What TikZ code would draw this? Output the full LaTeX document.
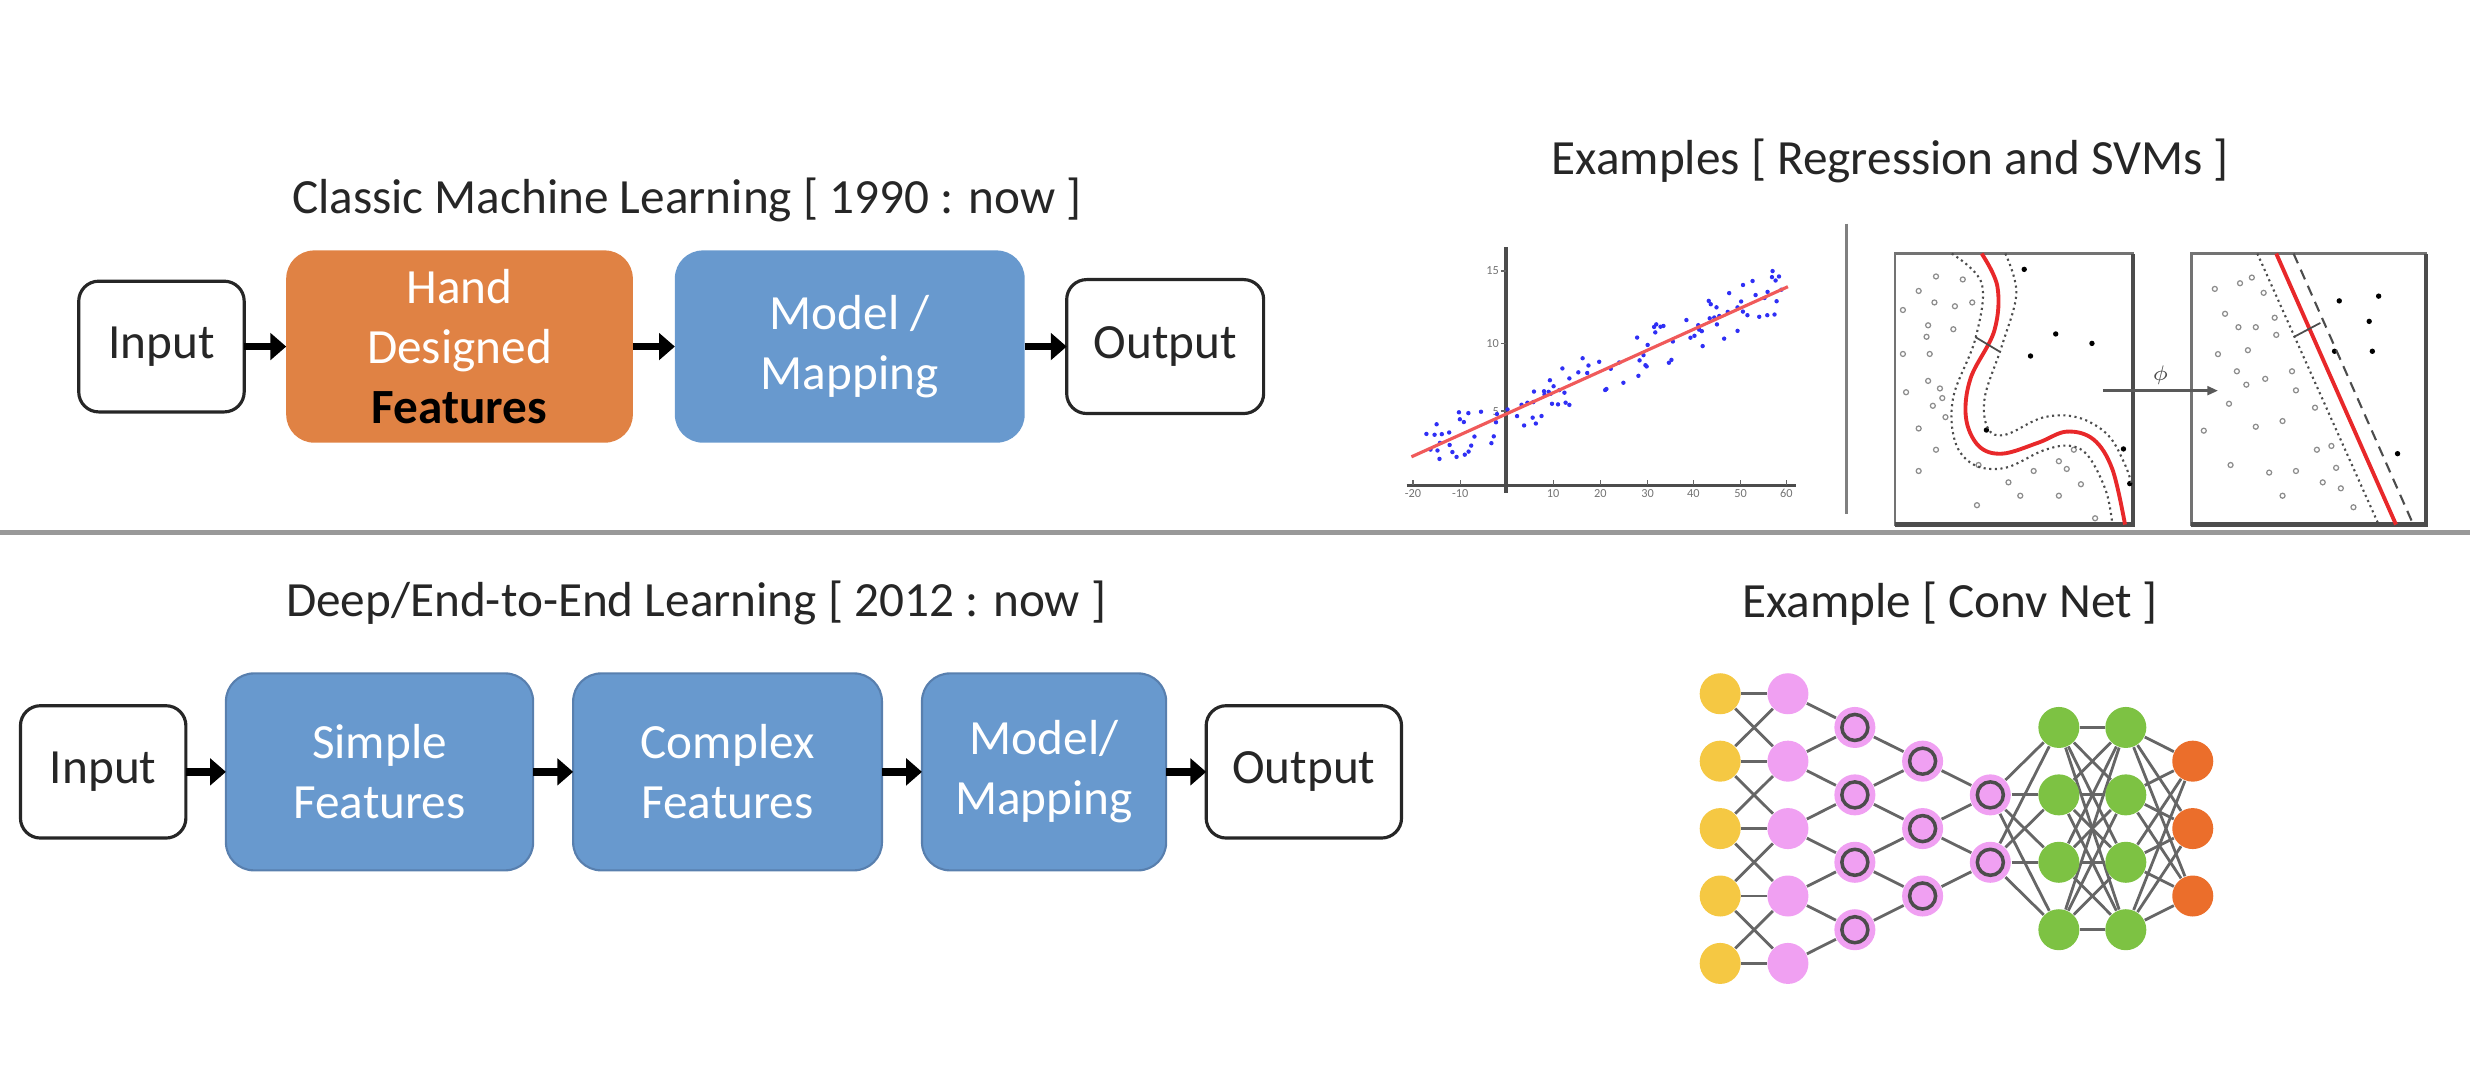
\documentclass[tikz,border=0pt]{standalone}
\usepackage{fontspec}
\setmainfont{Carlito}
\usetikzlibrary{positioning, arrows.meta, calc, backgrounds}

\definecolor{blockblue}{HTML}{6899CE}
\definecolor{blockedge}{HTML}{587FAE}
\definecolor{handorange}{HTML}{E08244}
\definecolor{txtgray}{HTML}{262626}
\definecolor{unityellow}{HTML}{F5C843}
\definecolor{unitpink}{HTML}{F0A0F2}
\definecolor{unitgreen}{HTML}{7DC243}
\definecolor{unitorange}{HTML}{EB6E2B}
\definecolor{dotblue}{HTML}{2F2FF5}
\definecolor{fitred}{HTML}{F05A5A}
\definecolor{svmred}{HTML}{E8282A}

\tikzset{
    io/.style={draw=txtgray, line width=0.9pt, fill=white, rounded corners=0.2cm,
        inner sep=0pt, outer sep=0pt, text=txtgray, align=center},
    block/.style={fill=blockblue, rounded corners=0.28cm, inner sep=0pt, outer sep=0pt,
        minimum height=1.922cm, text=white, align=center},
    flow/.style={line width=2.2pt, black, -{Triangle[length=4.5pt, width=7.5pt]}},
    heading/.style={text=txtgray},
    unit/.style={circle, minimum size=0.41cm, inner sep=0pt},
    ringunit/.style={unit, fill=unitpink, path picture={\draw[black!70, line width=1pt]
        (path picture bounding box.center) circle (0.13cm);}},
    link/.style={black!60, line width=0.8pt},
    tick/.style={font=\fontsize{3.5pt}{4pt}\selectfont, text=black!55, inner sep=0.5pt},
    opendot/.style={draw=black!45, line width=0.35pt},
}

\begin{document}
\begin{tikzpicture}[x=0.01575cm, y=-0.01575cm,
    every node/.style={font=\fontsize{14pt}{17pt}\selectfont}]
    \useasboundingbox (0,0) rectangle (1568,683);

    % classic pipeline
    \node[heading] (classic) at (436,127) {Classic Machine Learning [ 1990 : now ]};
    \node[io, minimum width=1.654cm, minimum height=1.307cm] (in1) at (102.5,220) {Input};
    \node[block, fill=handorange, minimum width=3.465cm, right=0.42cm of in1] (hand)
        {Hand\\Designed\\\textbf{\color{black}Features}};
    \node[block, minimum width=3.497cm, right=0.42cm of hand] (model1) {Model /\\Mapping};
    \node[io, minimum width=1.969cm, minimum height=1.339cm, right=0.42cm of model1] (out1) {Output};

    \draw[flow] (in1) -- (hand);
    \draw[flow] (hand) -- (model1);
    \draw[flow] (model1) -- (out1);

    % deep pipeline
    \node[heading] (deep) at (442,383) {Deep/End-to-End Learning [ 2012 : now ]};
    \node[io, minimum width=1.654cm, minimum height=1.323cm] (in2) at (65.5,490) {Input};
    \node[block, draw=blockedge, line width=0.6pt, minimum width=3.071cm, minimum height=1.969cm,
        right=0.40cm of in2] (simple) {Simple\\Features};
    \node[block, draw=blockedge, line width=0.6pt, minimum width=3.087cm, minimum height=1.969cm,
        right=0.40cm of simple] (complex) {Complex\\Features};
    \node[block, draw=blockedge, line width=0.6pt, minimum width=2.441cm, minimum height=1.969cm,
        right=0.40cm of complex] (model2) {Model/\\Mapping};
    \node[io, minimum width=1.953cm, minimum height=1.323cm, right=0.40cm of model2] (out2) {Output};

    \draw[flow] (in2) -- (simple);
    \draw[flow] (simple) -- (complex);
    \draw[flow] (complex) -- (model2);
    \draw[flow] (model2) -- (out2);

    % separator
    \draw[black!40, line width=1.3pt] (0,338) -- (1568,338);

    % examples
    \node[heading] (svmtitle) at (1200,102) {Examples [ Regression and SVMs ]};
    \node[heading] (cnntitle) at (1238,383) {Example [ Conv Net ]};

    % regression plot
    \draw[black!70, line width=0.9pt] (893,308) -- (1140,308);
    \draw[black!70, line width=0.9pt] (956,157) -- (956,313);
    \foreach \v/\xx in {-20/897, -10/927, 10/986, 20/1016, 30/1046, 40/1075, 50/1105, 60/1134} {
        \draw[black!60, line width=0.4pt] (\xx,305) -- (\xx,308);
        \node[tick, below] (xl\v) at (\xx,309) {\v};
    }
    \foreach \v/\yy in {5/261, 10/218, 15/172} {
        \draw[black!60, line width=0.4pt] (953,\yy) -- (956,\yy);
        \node[tick, left] (yl\v) at (953,\yy) {\v};
    }
    \pgfmathsetseed{12}
    \foreach \n in {1,...,110} {
        \pgfmathsetmacro{\px}{903+232*rnd}
        \pgfmathsetmacro{\py}{290-0.452*(\px-896)+15*rand}
        \fill[dotblue] (\px,\py) circle (0.022cm);
    }
    \draw[fitred, line width=0.9pt] (896,290) -- (1135,182);

    \draw[black!50, line width=0.9pt] (1172,142) -- (1172,326);

    % svm, input space
    \draw[black!55, line width=0.8pt] (1203,161) rectangle (1354,333);
    \draw[black!70, line width=1.3pt] (1203,333) -- (1354,333) -- (1354,161);
    \foreach \a/\b in {1229/175.5, 1246/177.4, 1218/184.7, 1228/192, 1241/194.4, 1252/192,
        1208/196.8, 1224/206.5, 1240/209, 1223/213.8, 1208/224.7, 1225/224.7, 1224/241.8,
        1231.5/246.6, 1210/249, 1227/257.6, 1233/252.7, 1218/272, 1229/285.5, 1218/299,
        1256/295.2, 1275/306.2, 1291/299, 1307/292.8, 1312/297.7, 1321/307.4, 1282.5/314.7,
        1307/314.7, 1255/320.7, 1330/329, 1316.5/285.5, 1235/264.8}
        \draw[opendot] (\a,\b) circle (0.025cm);
    \foreach \a/\b in {1285/171, 1305/212, 1328/218, 1289/226, 1261/273, 1348/285, 1352/307}
        \fill[black] (\a,\b) circle (0.027cm);
    \draw[black!70, line width=0.6pt, densely dotted] plot[smooth, tension=0.6] coordinates
        {(1239,161) (1258,180) (1254,215) (1240,252) (1241,280) (1253,295) (1273,297)
         (1297,286) (1314,283) (1326,290) (1337,312) (1341,333)};
    \draw[black!70, line width=0.6pt, densely dotted] plot[smooth, tension=0.6] coordinates
        {(1273,161) (1280,186) (1271,219) (1260,252) (1262,272) (1273,276) (1297,265)
         (1319,265) (1338,276) (1349,295) (1354,310)};
    \draw[svmred, line width=1.1pt] plot[smooth, tension=0.6] coordinates
        {(1258,161) (1268,182) (1266,210) (1251,240) (1248,265) (1256,283) (1271,288)
         (1294,281) (1312,274) (1329,279) (1341,298) (1349,333)};
    \draw[black!70, line width=0.5pt] (1254,214) -- (1269,223);

    % svm, feature space
    \draw[black!55, line width=0.8pt] (1391,161) rectangle (1540,333);
    \draw[black!70, line width=1.3pt] (1391,333) -- (1540,333) -- (1540,161);
    \foreach \a/\b in {1406/183.4, 1422/179.8, 1429.5/176.2, 1437/185.9, 1412.5/199.2,
        1432/207.7, 1421/207.7, 1444/201.7, 1445/212.6, 1408/224.8, 1427/222.3, 1420/235.7,
        1426/244.2, 1438/240.5, 1455/235.7, 1457.5/247.8, 1415/256.3, 1399/273.4, 1432/270.9,
        1449/267.3, 1469.6/258.8, 1470.8/285.5, 1480/283.1, 1483/297, 1416/295.2, 1440.5/300,
        1457.5/299, 1474.5/306.2, 1486/310, 1449/314.7, 1494/322}
        \draw[opendot] (\a,\b) circle (0.025cm);
    \foreach \a/\b in {1485/191, 1510/188, 1504/204, 1482/223, 1506/223, 1522/288}
        \fill[black] (\a,\b) circle (0.027cm);
    \draw[black!70, line width=0.6pt, densely dotted] (1433,161) -- (1510,333);
    \draw[black!70, line width=0.6pt, densely dashed] (1456,161) -- (1532,333);
    \draw[svmred, line width=1.1pt] (1445,161) -- (1521,333);
    \draw[black!70, line width=0.5pt] (1456,214) -- (1473,205);

    \coordinate (mapfrom) at (1335,248);
    \coordinate (mapto) at (1408,248);
    \draw[black!65, line width=0.7pt, -{Triangle[length=3pt, width=2.5pt]}] (mapfrom) --
        node[above, font=\fontsize{6pt}{7pt}\selectfont, text=black!70, inner sep=1.5pt] (phi) {$\phi$} (mapto);

    % conv net
    \foreach \r [count=\i] in {-2,-1,0,1,2} {
        \node[unit, fill=unityellow] (yel\i) at (1092,{526+42.8*\r}) {};
        \node[unit, fill=unitpink] (pa\i) at (1135,{526+42.8*\r}) {};
    }
    \foreach \r [count=\i] in {-1.5,-0.5,0.5,1.5} {
        \node[ringunit] (pb\i) at (1177.5,{526+42.8*\r}) {};
        \node[unit, fill=unitgreen] (ga\i) at (1307,{526+42.8*\r}) {};
        \node[unit, fill=unitgreen] (gb\i) at (1349.5,{526+42.8*\r}) {};
    }
    \foreach \r [count=\i] in {-1,0,1} {
        \node[ringunit] (pc\i) at (1220.5,{526+42.8*\r}) {};
        \node[unit, fill=unitorange] (org\i) at (1392,{526+42.8*\r}) {};
    }
    \foreach \r [count=\i] in {-0.5,0.5}
        \node[ringunit] (pd\i) at (1263.5,{526+42.8*\r}) {};

    \begin{scope}[on background layer]
        \foreach \i in {1,...,5} \draw[link] (yel\i) -- (pa\i);
        \foreach \i [evaluate=\i as \k using int(\i+1)] in {1,...,4} {
            \draw[link] (yel\i) -- (pa\k);
            \draw[link] (yel\k) -- (pa\i);
            \draw[link] (pa\i) -- (pb\i);
            \draw[link] (pa\k) -- (pb\i);
        }
        \foreach \i [evaluate=\i as \k using int(\i+1)] in {1,2,3} {
            \draw[link] (pb\i) -- (pc\i);
            \draw[link] (pb\k) -- (pc\i);
        }
        \foreach \i [evaluate=\i as \k using int(\i+1)] in {1,2} {
            \draw[link] (pc\i) -- (pd\i);
            \draw[link] (pc\k) -- (pd\i);
        }
        \foreach \i in {1,2} \foreach \j in {1,...,4} \draw[link] (pd\i) -- (ga\j);
        \foreach \i in {1,...,4} \foreach \j in {1,...,4} \draw[link] (ga\i) -- (gb\j);
        \foreach \i in {1,...,4} \foreach \j in {1,2,3} \draw[link] (gb\i) -- (org\j);
    \end{scope}
\end{tikzpicture}
\end{document}
